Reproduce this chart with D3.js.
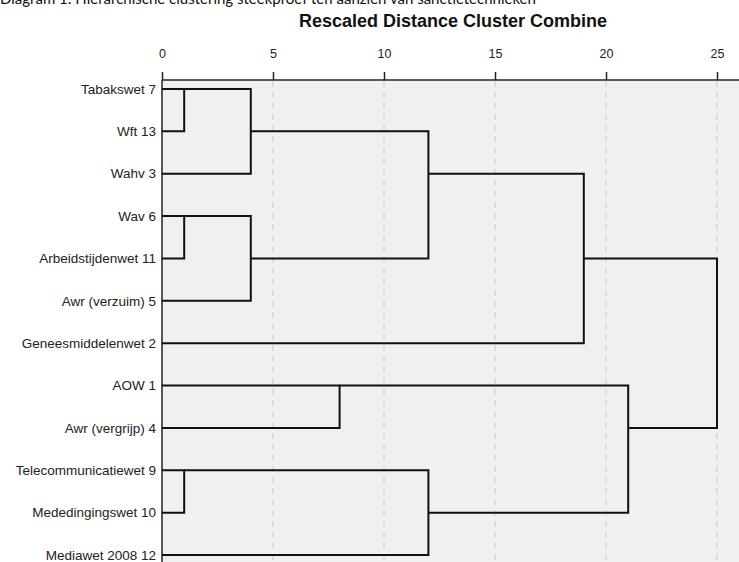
<!DOCTYPE html>
<html>
<head>
<meta charset="utf-8">
<script src="https://cdn.jsdelivr.net/npm/d3@7"></script>
<style>
  body { margin: 0; background: #fff; }
  svg { display: block; font-family: "Liberation Sans", Arial, sans-serif; }
</style>
</head>
<body>
<svg id="chart" width="739" height="562"></svg>
<script>
// leaves, top to bottom
const labels = ['Tabakswet 7', 'Wft 13', 'Wahv 3', 'Wav 6', 'Arbeidstijdenwet 11',
  'Awr (verzuim) 5', 'Geneesmiddelenwet 2', 'AOW 1', 'Awr (vergrijp) 4',
  'Telecommunicatiewet 9', 'Mededingingswet 10', 'Mediawet 2008 12'];

// merge steps: ids below 12 are leaves, id 12 + k is merge k
const mergeLeft = [0, 3, 9, 12, 13, 7, 15, 14, 18, 17, 20];
const mergeRight = [1, 4, 10, 2, 5, 8, 16, 11, 6, 19, 21];
const mergeDistance = [1, 1, 1, 4, 4, 8, 12, 12, 19, 21, 25];

const tickValues = [0, 5, 10, 15, 20, 25];

const svg = d3.select('#chart');
const W = 739, H = 562;
const margin = { top: 80, left: 162 };

const x = d3.scaleLinear().domain([0, 25]).range([162, 717]);
const y = d3.scalePoint().domain(d3.range(labels.length)).range([89, 555]);

// caption, cut off at the top
svg.append('text')
    .attr('x', 0)
    .attr('y', 4)
    .attr('font-family', 'Lato, sans-serif')
    .attr('font-size', 15)
    .attr('fill', '#111')
    .text('Diagram 1: Hiërarchische clustering steekproef ten aanzien van sanctietechnieken');

svg.append('text')
    .attr('x', 453)
    .attr('y', 27)
    .attr('text-anchor', 'middle')
    .attr('font-weight', 'bold')
    .attr('font-size', 18)
    .attr('fill', '#111')
    .text('Rescaled Distance Cluster Combine');

// plot background
svg.append('rect')
    .attr('x', margin.left)
    .attr('y', margin.top)
    .attr('width', W - margin.left)
    .attr('height', H - margin.top)
    .attr('fill', '#f0f0f0');

// dashed grid
svg.append('g')
  .selectAll('line')
  .data(tickValues.filter(d => d > 0))
  .enter().append('line')
    .attr('x1', d => x(d))
    .attr('x2', d => x(d))
    .attr('y1', margin.top + 1)
    .attr('y2', H)
    .attr('stroke', '#c8c8c8')
    .attr('stroke-width', 1)
    .attr('stroke-dasharray', '6,5');

// top axis
const axis = svg.append('g')
    .attr('transform', `translate(0,${margin.top})`)
    .call(d3.axisTop(x).tickValues(tickValues).tickSize(8).tickSizeOuter(0));
axis.select('.domain').remove();
axis.selectAll('.tick line').attr('stroke', '#222').attr('stroke-width', 1.5);
axis.selectAll('.tick text')
    .attr('font-size', 12.5)
    .attr('font-family', '"Liberation Sans", Arial, sans-serif')
    .attr('fill', '#222')
    .attr('dy', '-0.9em');

svg.append('line')
    .attr('x1', margin.left).attr('x2', W)
    .attr('y1', margin.top).attr('y2', margin.top)
    .attr('stroke', '#222').attr('stroke-width', 1.5);
svg.append('line')
    .attr('x1', margin.left).attr('x2', margin.left)
    .attr('y1', margin.top).attr('y2', H)
    .attr('stroke', '#222').attr('stroke-width', 1.5);

// leaf labels
svg.append('g')
  .selectAll('text')
  .data(labels)
  .enter().append('text')
    .attr('x', 156)
    .attr('y', (d, i) => y(i))
    .attr('dy', '0.35em')
    .attr('text-anchor', 'end')
    .attr('font-size', 13.5)
    .attr('fill', '#222')
    .text(d => d);

// node positions: leaves sit on their rows, merges on the row below the midpoint
const nodes = labels.map((d, i) => ({ row: i, dist: 0 }));
mergeLeft.forEach((a, k) => {
  const b = mergeRight[k];
  nodes.push({
    row: Math.floor((nodes[a].row + nodes[b].row) / 2),
    dist: mergeDistance[k],
    a, b,
  });
});

const links = svg.append('g')
    .attr('fill', 'none')
    .attr('stroke', '#111')
    .attr('stroke-width', 2);

nodes.forEach((n) => {
  if (n.a === undefined) return;
  const ca = nodes[n.a], cb = nodes[n.b];
  const p = d3.path();
  p.moveTo(x(ca.dist), y(ca.row));
  p.lineTo(x(n.dist), y(ca.row));
  p.lineTo(x(n.dist), y(cb.row));
  p.lineTo(x(cb.dist), y(cb.row));
  links.append('path').attr('d', p.toString());
});
</script>
</body>
</html>
